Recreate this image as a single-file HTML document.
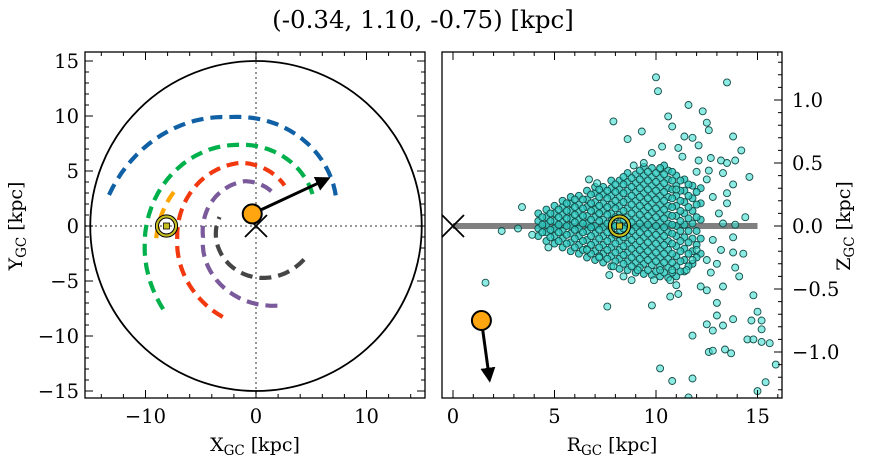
<!DOCTYPE html>
<html><head><meta charset="utf-8"><style>
html,body{margin:0;padding:0;background:#fff;}
svg{display:block;font-family:"DejaVu Serif","Liberation Serif",serif;}
</style></head><body>
<svg id="fig" width="874" height="464" viewBox="0 0 874 464" xmlns="http://www.w3.org/2000/svg">
<text x="423" y="28" text-anchor="middle" font-size="24.5">(-0.34, 1.10, -0.75) [kpc]</text>
<g id="left"></g>
<g id="right"></g>
</svg>
<script>
// ---- data ----
const obsX = -0.34, obsY = 1.10, obsZ = -0.75;
const obsR = 1.4;
const sunX = -8.1, sunR = 8.2;
const velEndX = 6.5, velEndY = 4.3;
const velEndRz = [1.8, -1.22];
const armNames = ['blue-arm','green-arm','red-arm','purple-arm','gray-arm','orange-arm'];
const armColors = ['#0f60a5','#00b04b','#f2380f','#7a5a9b','#454545','#ffa500'];
const armTheta = [[168,104,20],[222,192,104,26],[250,188,103,55],[285,192,104,64],[325,272,166],[187,156]];
const armRadius = [[13.6,10.2,7.7],[11.3,10.3,7.6,5.8],[8.8,7.2,5.9,4.5],[7.5,4.9,4.2,3.4],[5.3,4.7,3.4],[9.1,8.0]];
const boundaryR = 15;
const xTicksL = [-10,0,10], yTicksL = [-15,-10,-5,0,5,10,15];
const xTicksR = [0,5,10,15], yTicksR = ['-1.0','-0.5','0.0','0.5','1.0'];
// scattered stars (outliers)
const starR = [10.0,10.1,13.5,11.6,12.3,10.6,7.9,13.8,8.6,9.3,14.2,14.6,6.7,7.1,3.4,2.4,3.2,3.9,4.7,14.4,13.9,1.6,7.6,9.8,14.8,15.0,13.0,13.0,13.8,14.7,15.2,12.5,13.3,12.8,15.2,11.8,14.5,14.8,15.2,15.6,12.6,12.8,13.4,13.7,15.9,10.2,10.8,11.8,15.4,15.0,11.6,11.0,11.1,10.7,12.2,12.5,13.3,14.1,13.9,14.3,13.8,8.8,8.4,7.7,10.8,11.4,11.8,12.6,12.5,12.1,10.3,11.1,9.8,9.4,8.9,10.2,11.3,12.1,12.7,13.2,13.5,13.9,12.0,12.6,13.3,13.8,13.5,13.5,13.1,11.0,12.5,12.8,13.3,13.8,12.8,13.2,12.0,12.5,13.0,11.8,12.7,11.5,10.8,10.2,9.1,7.9,7.2,6.6,9.9,10.7];
const starZ = [1.18,1.07,1.14,0.96,0.91,0.87,0.83,0.71,0.69,0.75,0.60,0.39,0.37,0.34,0.15,-0.04,-0.02,-0.07,-0.17,0.07,0.01,-0.45,-0.64,-0.63,-0.55,-0.68,-0.61,-0.71,-0.74,-0.75,-0.75,-0.78,-0.79,-0.83,-0.82,-0.87,-0.90,-0.90,-0.92,-0.93,-1.0,-0.99,-0.98,-1.01,-1.1,-1.13,-1.23,-1.21,-1.24,-1.31,-1.36,-0.47,-0.54,-0.56,-0.48,-0.51,-0.48,-0.40,-0.33,-0.22,-0.21,-0.43,-0.40,-0.39,0.79,0.71,0.70,0.76,0.82,0.64,0.63,0.62,0.58,0.50,0.48,0.46,0.55,0.52,0.54,0.52,0.50,0.52,0.43,0.44,0.42,0.33,0.26,0.18,0.10,0.29,0.37,0.23,0.02,-0.09,-0.11,-0.19,-0.19,-0.27,-0.30,-0.27,-0.37,-0.35,-0.35,-0.35,-0.35,-0.32,-0.25,-0.19,-0.43,-0.43];
// dense core, by column
const coreColR = [4.2,4.6,5.0,5.4,5.8,6.2,6.6,7.0,7.4,7.8,8.2,8.6,9.0,9.4,9.8,10.2,10.6,11.0,11.4,11.8,12.2];
const coreColZ = [
 [-0.08,-0.02,0.04,0.10],
 [-0.12,-0.05,0.01,0.07,0.13],
 [-0.14,-0.08,-0.02,0.04,0.10,0.16],
 [-0.17,-0.10,-0.04,0.03,0.09,0.15,0.20],
 [-0.20,-0.13,-0.06,0.00,0.06,0.12,0.18,0.23],
 [-0.22,-0.15,-0.08,-0.02,0.05,0.11,0.17,0.24],
 [-0.25,-0.18,-0.11,-0.04,0.02,0.08,0.15,0.21,0.28],
 [-0.27,-0.20,-0.13,-0.06,0.00,0.07,0.13,0.19,0.26,0.31],
 [-0.29,-0.22,-0.15,-0.08,-0.01,0.05,0.12,0.18,0.25,0.31],
 [-0.32,-0.24,-0.17,-0.10,-0.03,0.04,0.10,0.17,0.24,0.30,0.36],
 [-0.34,-0.26,-0.19,-0.12,-0.05,0.02,0.09,0.16,0.23,0.29,0.36],
 [-0.35,-0.28,-0.21,-0.14,-0.07,0.00,0.07,0.14,0.21,0.28,0.35,0.42],
 [-0.37,-0.29,-0.22,-0.15,-0.08,-0.01,0.06,0.13,0.20,0.27,0.34,0.41],
 [-0.38,-0.30,-0.23,-0.16,-0.09,-0.02,0.05,0.12,0.19,0.26,0.33,0.40,0.47],
 [-0.39,-0.31,-0.24,-0.17,-0.10,-0.03,0.04,0.11,0.18,0.25,0.32,0.39,0.46],
 [-0.40,-0.32,-0.25,-0.18,-0.11,-0.04,0.03,0.10,0.17,0.24,0.31,0.38,0.45],
 [-0.41,-0.33,-0.26,-0.19,-0.12,-0.05,0.02,0.09,0.16,0.23,0.30,0.37,0.44],
 [-0.40,-0.32,-0.24,-0.16,-0.08,0.00,0.08,0.16,0.24,0.32,0.40],
 [-0.36,-0.27,-0.18,-0.09,0.01,0.10,0.19,0.28,0.37],
 [-0.30,-0.20,-0.10,0.02,0.12,0.22,0.32],
 [-0.22,-0.10,0.05,0.18,0.30]];
const coreColR2 = [4.4,4.8,5.2,5.6,6.0,6.4,6.8,7.2,7.6,8.0,8.4,8.8,9.2,9.6,10.0,10.4,10.8,11.2,11.6,12.0];
const coreColZ2 = [
 [-0.05,0.01,0.07],
 [-0.09,-0.03,0.04,0.10],
 [-0.12,-0.05,0.01,0.07,0.13],
 [-0.14,-0.07,0.00,0.06,0.12,0.18],
 [-0.17,-0.10,-0.03,0.03,0.09,0.15,0.21],
 [-0.19,-0.12,-0.05,0.02,0.08,0.14,0.21],
 [-0.22,-0.15,-0.08,-0.01,0.05,0.12,0.18,0.25],
 [-0.24,-0.17,-0.10,-0.03,0.04,0.10,0.16,0.23,0.29],
 [-0.26,-0.19,-0.12,-0.05,0.02,0.09,0.15,0.22,0.28],
 [-0.28,-0.21,-0.14,-0.07,0.00,0.07,0.14,0.20,0.27,0.33],
 [-0.30,-0.23,-0.16,-0.09,-0.02,0.05,0.12,0.19,0.26,0.33,0.39],
 [-0.32,-0.25,-0.18,-0.11,-0.04,0.03,0.10,0.17,0.24,0.31,0.38],
 [-0.33,-0.26,-0.19,-0.12,-0.05,0.02,0.09,0.16,0.23,0.30,0.37,0.44],
 [-0.35,-0.27,-0.20,-0.13,-0.06,0.01,0.08,0.15,0.22,0.29,0.36,0.43],
 [-0.36,-0.28,-0.21,-0.14,-0.07,0.00,0.07,0.14,0.21,0.28,0.35,0.42],
 [-0.37,-0.29,-0.22,-0.15,-0.08,-0.01,0.06,0.13,0.20,0.27,0.34,0.41,0.48],
 [-0.37,-0.29,-0.22,-0.14,-0.06,0.01,0.08,0.15,0.22,0.29,0.36,0.43],
 [-0.36,-0.28,-0.20,-0.12,-0.04,0.04,0.12,0.20,0.28,0.36],
 [-0.32,-0.22,-0.13,-0.04,0.06,0.15,0.24,0.33],
 [-0.25,-0.15,-0.04,0.07,0.17,0.27]];

// ---- axes ----
const NS='http://www.w3.org/2000/svg';
function el(parent, tag, attrs){const e=document.createElementNS(NS,tag);for(const k in attrs)e.setAttribute(k,attrs[k]);parent.appendChild(e);return e;}
const L={x0:85,x1:425,y0:52,y1:398};
const R={x0:442,x1:782,y0:52,y1:398};
const lx=v=>256+v*11.05, ly=v=>226-v*11.0;
const rx=v=>453+v*20.3, rz=v=>226-v*126;

const left=document.getElementById('left'), right=document.getElementById('right');

const defs=el(document.getElementById('fig'),'defs',{});
const cp=el(defs,'clipPath',{id:'clipL'});el(cp,'rect',{x:L.x0,y:L.y0,width:L.x1-L.x0,height:L.y1-L.y0});
const cp2=el(defs,'clipPath',{id:'clipR'});el(cp2,'rect',{x:R.x0,y:R.y0,width:R.x1-R.x0,height:R.y1-R.y0});
const mk=el(defs,'marker',{id:'arrow',viewBox:'0 0 10 10',refX:'8',refY:'5',markerWidth:'5',markerHeight:'5',orient:'auto'});
el(mk,'path',{d:'M0,0 L10,5 L0,10 Z',fill:'#000'});

// LEFT PANEL
const gL=el(left,'g',{'clip-path':'url(#clipL)'});
let e;
e=el(gL,'line',{x1:L.x0,x2:L.x1,y1:ly(0),y2:ly(0),stroke:'#777','stroke-width':1.5,'stroke-dasharray':'2,3'});


e=el(gL,'line',{x1:lx(0),x2:lx(0),y1:L.y0,y2:L.y1,stroke:'#777','stroke-width':1.5,'stroke-dasharray':'2,3'});


e=el(gL,'ellipse',{cx:lx(0),cy:ly(0),rx:boundaryR*11.05,ry:boundaryR*11.0,fill:'none',stroke:'#000','stroke-width':1.8});



armTheta.forEach((th,i)=>{
  const rr=armRadius[i];const pts=[];
  for(let s=0;s<th.length-1;s++){
    for(let k=0;k<=20;k++){const t=k/20;const a=(th[s]+(th[s+1]-th[s])*t)*Math.PI/180;const r=rr[s]+(rr[s+1]-rr[s])*t;
      pts.push(lx(r*Math.cos(a)).toFixed(1)+','+ly(r*Math.sin(a)).toFixed(1));}
  }
  const p=el(gL,'polyline',{points:pts.join(' '),fill:'none',stroke:armColors[i],'stroke-width':4.2,'stroke-dasharray':'12,7'});
  
  
});
function sun(g,cx,cy,nm){
  const s=el(g,'g',{});
  
  
  el(s,'circle',{cx,cy,r:11,fill:'none',stroke:'#000','stroke-width':1.2});
  el(s,'circle',{cx,cy,r:9.5,fill:'none',stroke:'#c8c020','stroke-width':2.2});
  el(s,'circle',{cx,cy,r:8,fill:'none',stroke:'#000','stroke-width':1});
  el(s,'rect',{x:cx-3,y:cy-3,width:6,height:6,fill:'#c8c020',stroke:'#000','stroke-width':0.8});
}
sun(gL,lx(sunX),ly(0),'sun-marker-xy');
function cross(g,cx,cy,nm){
  const c=el(g,'path',{d:`M${cx-11},${cy-11}L${cx+11},${cy+11}M${cx+11},${cy-11}L${cx-11},${cy+11}`,stroke:'#000','stroke-width':1.8,fill:'none'});
  
  
}
cross(gL,lx(0),ly(0),'galactic-center-xy');
e=el(gL,'line',{x1:lx(obsX),y1:ly(obsY),x2:lx(velEndX),y2:ly(velEndY),stroke:'#000','stroke-width':3,'marker-end':'url(#arrow)'});


e=el(gL,'circle',{cx:lx(obsX),cy:ly(obsY),r:9.5,fill:'#ffa510',stroke:'#000','stroke-width':2});



function frame(g,b,nm){const f=el(g,'rect',{x:b.x0,y:b.y0,width:b.x1-b.x0,height:b.y1-b.y0,fill:'none',stroke:'#000','stroke-width':1.3});
  }
function ticks(g,b,xs,fx,ys,fy,len,sides){
  let d='';
  xs.forEach(v=>{const x=fx(v);if(x<b.x0||x>b.x1)return;d+=`M${x},${b.y1}v${-len}M${x},${b.y0}v${len}`;});
  ys.forEach(v=>{const y=fy(v);if(y<b.y0||y>b.y1)return;if(sides.l)d+=`M${b.x0},${y}h${len}`;if(sides.r)d+=`M${b.x1},${y}h${-len}`;});
  el(g,'path',{d,stroke:'#000','stroke-width':1,fill:'none'});
}
const rng=(a,b,s)=>{const o=[];for(let v=a;v<=b+1e-9;v+=s)o.push(+v.toFixed(3));return o;};
ticks(left,L,rng(-16,16,2),lx,rng(-16,16,1),ly,4,{l:1,r:1});
ticks(left,L,rng(-10,10,10),lx,rng(-15,15,5),ly,8,{l:1,r:1});
frame(left,L,'xy-plot-frame');
xTicksL.forEach(v=>{const t=el(left,'text',{x:lx(v),y:L.y1+25,'text-anchor':'middle','font-size':19.5});t.textContent=(v<0?'\u2212':'')+Math.abs(v);
  });
yTicksL.forEach(v=>{const t=el(left,'text',{x:L.x0-6,y:ly(v)+7,'text-anchor':'end','font-size':19.5});t.textContent=(v<0?'\u2212':'')+Math.abs(v);
  });

// RIGHT PANEL
const gR=el(right,'g',{'clip-path':'url(#clipR)'});
e=el(gR,'line',{x1:rx(0),x2:rx(15),y1:rz(0),y2:rz(0),stroke:'#808080','stroke-width':6});


const gs=el(gR,'g',{});


function star(R_,Z_,core){const c=el(gs,'circle',{cx:rx(R_).toFixed(1),cy:rz(Z_).toFixed(1),r:3.5,fill:core?'rgba(40,200,190,0.8)':'rgba(64,224,208,0.6)',stroke:'#164c48','stroke-width':0.9});
  }
coreColR.forEach((r,i)=>coreColZ[i].forEach(z=>star(r,z,1)));
coreColR2.forEach((r,i)=>coreColZ2[i].forEach(z=>star(r,z,1)));
starR.forEach((r,i)=>star(r,starZ[i],0));
sun(gR,rx(sunR),rz(0),'sun-marker-rz');
cross(gR,rx(0),rz(0),'galactic-center-rz');
e=el(gR,'line',{x1:rx(obsR),y1:rz(obsZ),x2:rx(velEndRz[0]),y2:rz(velEndRz[1]),stroke:'#000','stroke-width':3,'marker-end':'url(#arrow)'});


e=el(gR,'circle',{cx:rx(obsR),cy:rz(obsZ),r:9.5,fill:'#ffa510',stroke:'#000','stroke-width':2});


ticks(right,R,rng(0,16,1),rx,rng(-1.3,1.3,0.1),rz,4,{r:1});
ticks(right,R,rng(0,15,5),rx,rng(-1,1,0.5),rz,8,{r:1});
frame(right,R,'rz-plot-frame');
xTicksR.forEach(v=>{const t=el(right,'text',{x:rx(v),y:R.y1+25,'text-anchor':'middle','font-size':19.5});t.textContent=v;
  });
yTicksR.forEach(v=>{const t=el(right,'text',{x:R.x1+10,y:rz(+v)+7,'text-anchor':'start','font-size':19.5});t.textContent=v.replace('-','\u2212');
  });

const fig=document.getElementById('fig');
function lab(txt,sub,rest,x,y,rot,nm){
  const t=document.createElementNS(NS,'text');
  t.setAttribute('x',x);t.setAttribute('y',y);t.setAttribute('text-anchor','middle');t.setAttribute('font-size','19');
  if(rot)t.setAttribute('transform',`rotate(${rot} ${x} ${y})`);
  t.innerHTML=`${txt}<tspan font-size="13.5" dy="4">${sub}</tspan><tspan dy="-4"> ${rest}</tspan>`;
  
  
  fig.appendChild(t);
}
lab('X','GC','[kpc]',255,451,0,'x-axis-title');
lab('R','GC','[kpc]',612,451,0,'r-axis-title');
lab('Y','GC','[kpc]',22,226,-90,'y-axis-title');
lab('Z','GC','[kpc]',850,226,-90,'z-axis-title');
</script>
</body></html>
